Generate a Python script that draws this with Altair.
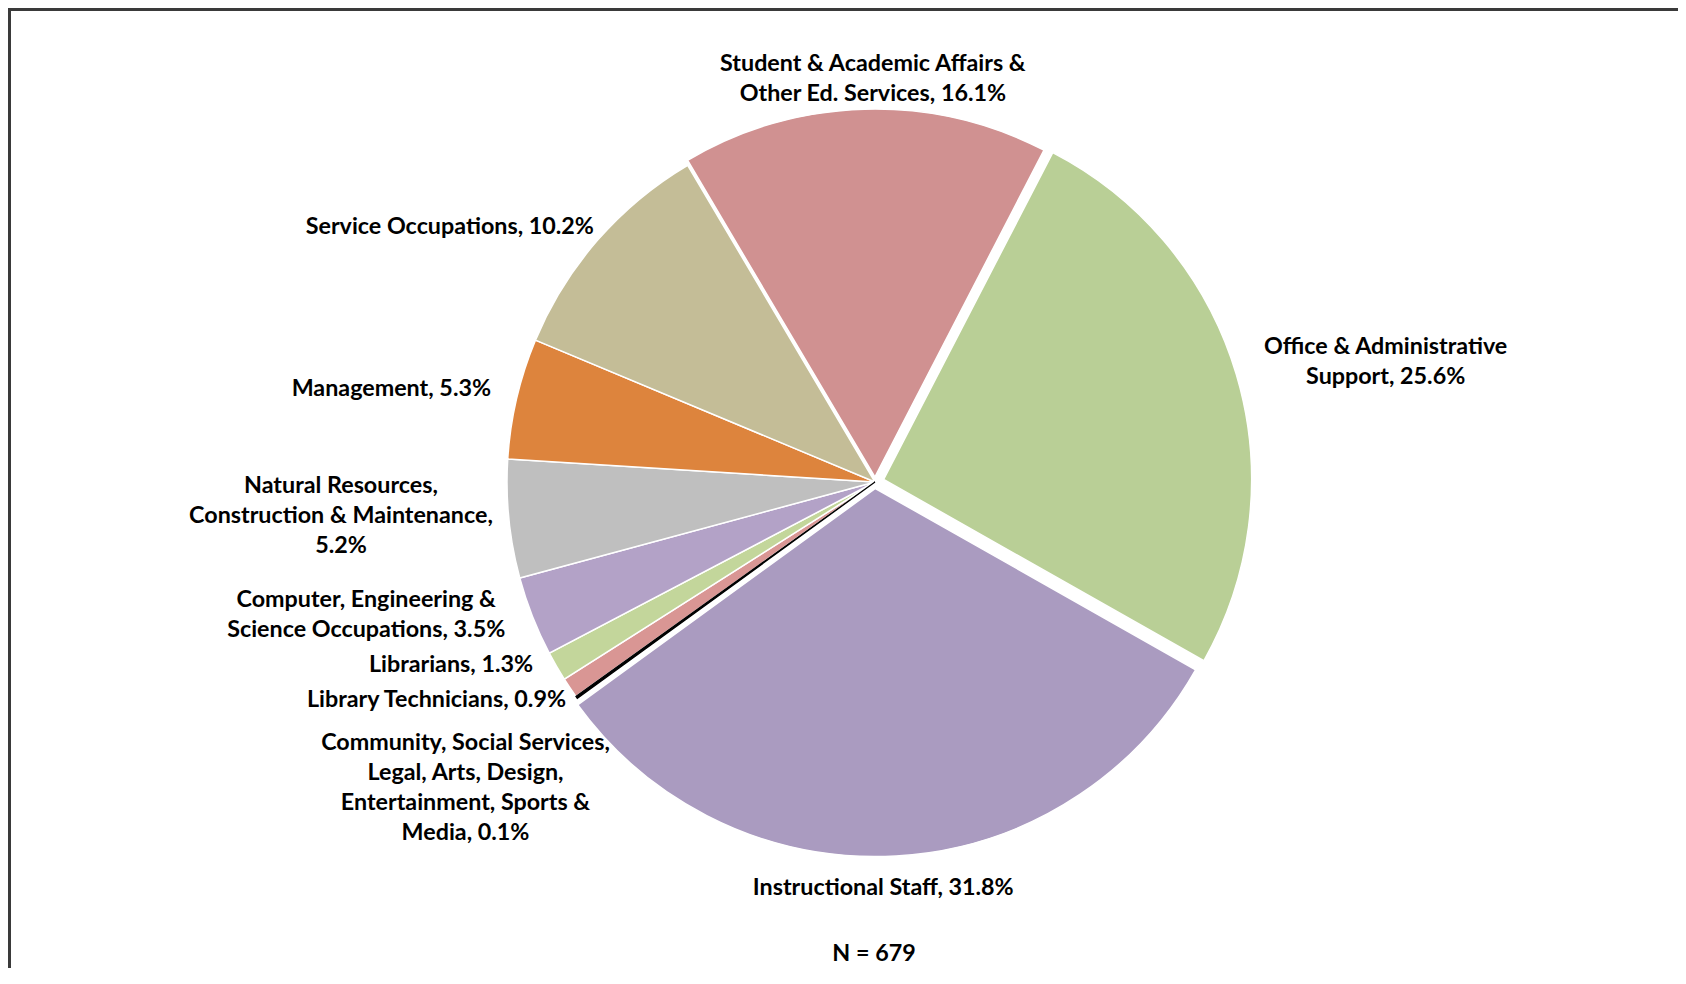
import math
import json
import altair as alt
import pandas as pd

# ---------------- data ----------------
categories = [
    "Student & Academic Affairs & Other Ed. Services",
    "Office & Administrative Support",
    "Instructional Staff",
    "Community, Social Services, Legal, Arts, Design, Entertainment, Sports & Media",
    "Library Technicians",
    "Librarians",
    "Computer, Engineering & Science Occupations",
    "Natural Resources, Construction & Maintenance",
    "Management",
    "Service Occupations",
]
percents = [16.1, 25.6, 31.8, 0.1, 0.9, 1.3, 3.5, 5.2, 5.3, 10.2]
label_texts = [
    "Student & Academic Affairs &\nOther Ed. Services, ",
    "Office & Administrative\nSupport, ",
    "Instructional Staff, ",
    "Community, Social Services,\nLegal, Arts, Design,\nEntertainment, Sports &\nMedia, ",
    "Library Technicians, ",
    "Librarians, ",
    "Computer, Engineering &\nScience Occupations, ",
    "Natural Resources,\nConstruction & Maintenance,\n",
    "Management, ",
    "Service Occupations, ",
]
n_total = 679

# ---------------- styles / layout ----------------
colors = ["#D09191", "#B9CF96", "#AA9BC0", "#000000", "#D99694",
          "#C3D69B", "#B3A2C7", "#BFBFBF", "#DD843D", "#C4BD97"]
W, H = 1670, 960
CX, CY = 867, 474
R = 368
RL = 394
LH = 30
A0 = math.radians(-30.6)
FONT = "Lato"
FS = 23.3

explode = {
    categories[0]: 5,
    categories[1]: 9,
    categories[2]: 6.5,
}
nudges = {
    categories[0]: (9, -9),
    categories[1]: (133, -8),
    categories[2]: (-14, 13),
    categories[3]: (-90, 75),
    categories[4]: (-112, -2),
    categories[5]: (-83, -14),
    categories[6]: (-142, -11),
    categories[7]: (-142, -6),
    categories[8]: (-100, -3),
    categories[9]: (-128, 4),
}


def lookup_expr(mapping, idx):
    expr = "0"
    for k, v in mapping.items():
        val = v if idx is None else v[idx]
        expr = f"datum.category === {json.dumps(k)} ? {val} : ({expr})"
    return expr


df = pd.DataFrame({
    "category": categories,
    "value": percents,
    "label": label_texts,
    "order": list(range(len(categories))),
})

base = alt.Chart(df).transform_window(
    cum="sum(value)", sort=[alt.SortField("order")], frame=[None, 0]
).transform_calculate(
    t1="datum.cum",
    t0="datum.cum - datum.value",
    txt="datum.label + format(datum.value, '.1f') + '%'",
).transform_calculate(
    mid=f"{A0} + (datum.t0 + datum.t1) / 200 * 2 * PI",
    ex=lookup_expr(explode, None),
    nx=lookup_expr(nudges, 0),
    ny=lookup_expr(nudges, 1),
    nlines="length(split(datum.txt, '\\n'))",
).transform_calculate(
    cx=f"{CX} + datum.ex * sin(datum.mid)",
    cy=f"{CY} - datum.ex * cos(datum.mid)",
    lx=f"{CX} + {RL} * sin(datum.mid) + datum.nx",
    ly=f"{CY} - {RL} * cos(datum.mid) + datum.ny - (datum.nlines - 1) * {LH} / 2",
)

theta_enc = alt.Theta("t0:Q", scale=alt.Scale(domain=[0, 100], range=[A0, A0 + 2 * math.pi]))

arcs = base.mark_arc(outerRadius=R, stroke="white", strokeWidth=1.5).encode(
    theta=theta_enc,
    theta2="t1:Q",
    x=alt.X("cx:Q", scale=None, axis=None),
    y=alt.Y("cy:Q", scale=None, axis=None),
    color=alt.Color("category:N", scale=alt.Scale(domain=categories, range=colors), legend=None),
    order=alt.Order("order:Q"),
)

thin = base.transform_filter(
    f"datum.category === {json.dumps(categories[3])}"
).mark_arc(outerRadius=R, stroke="#000000", strokeWidth=1.2, fill="#000000").encode(
    theta=theta_enc,
    theta2="t1:Q",
    x=alt.X("cx:Q", scale=None, axis=None),
    y=alt.Y("cy:Q", scale=None, axis=None),
)

labels = base.mark_text(
    font=FONT, fontSize=FS, fontWeight="bold", color="#000000",
    align="center", baseline="middle", lineBreak="\n", lineHeight=LH,
).encode(
    x=alt.X("lx:Q", scale=None, axis=None),
    y=alt.Y("ly:Q", scale=None, axis=None),
    text="txt:N",
)

ntext = alt.Chart(pd.DataFrame({"n": [n_total]})).transform_calculate(
    t="'N = ' + datum.n"
).mark_text(
    font=FONT, fontSize=FS, fontWeight="bold", color="#000000",
    align="center", baseline="middle",
).encode(x=alt.value(866), y=alt.value(946), text="t:N")

top_rule = alt.Chart(pd.DataFrame({"a": [0]})).mark_rule(
    color="#3a3a3a", strokeWidth=3
).encode(x=alt.value(0), x2=alt.value(W), y=alt.value(1.5))
left_rule = alt.Chart(pd.DataFrame({"a": [0]})).mark_rule(
    color="#3a3a3a", strokeWidth=3
).encode(x=alt.value(1.5), y=alt.value(0), y2=alt.value(H))

chart = alt.layer(arcs, thin, labels, ntext, top_rule, left_rule).properties(
    width=W, height=H, autosize="none", padding=0, background="white"
).configure_view(stroke=None)

chart.save("out.html", embed_options={"renderer": "svg", "actions": False})
